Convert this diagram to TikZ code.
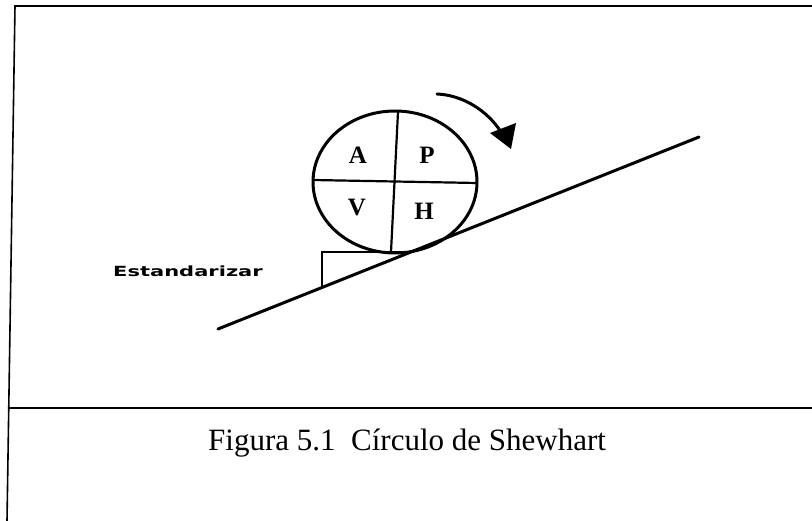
\documentclass[tikz,border=0pt]{standalone}
\usepackage{fontspec}
\setmainfont{Liberation Serif}
\newfontfamily\labelsans{DejaVu Sans}
\tikzset{
  frameline/.style={line width=1.6pt, line cap=rect},
  heavy/.style={line width=3pt, line cap=round, line join=round},
  divider/.style={line width=2.2pt},
  quad/.style={inner sep=0pt, font=\fontsize{25}{29}\selectfont\bfseries},
}
\begin{document}
\begin{tikzpicture}[x=1pt,y=-1pt]
\useasboundingbox (0,0) rectangle (812,521);
% frame
\coordinate (tl) at (15,6);
\coordinate (tr) at (812,6);
\coordinate (bl) at (7,521);
\coordinate (ml) at (8.8,408);
\coordinate (mr) at (812,408);
\draw[frameline] (tr) -- (tl) -- (bl);
\draw[frameline] (ml) -- (mr);
% incline
\coordinate (inc1) at (218,329);
\coordinate (inc2) at (699,137);
\draw[heavy] (inc1) -- (inc2);
% wedge (Estandarizar)
\coordinate (w1) at (408,252);
\coordinate (w2) at (322,252);
\coordinate (w3) at (322,287);
\draw[line width=2.4pt, line join=miter] (w1) -- (w2) -- (w3);
% circle
\coordinate (c) at (395,182);
\draw[heavy] (c) ellipse [x radius=82pt, y radius=71pt];
\coordinate (vt) at (398,112);
\coordinate (vb) at (391,252);
\coordinate (hl) at (313,180);
\coordinate (hr) at (477,183);
\draw[divider] (vt) -- (vb);
\draw[divider] (hl) -- (hr);
\node[quad] (A) at (358,155) {A};
\node[quad] (P) at (427,155) {P};
\node[quad] (V) at (357,208) {V};
\node[quad] (H) at (424,211) {H};
% rotation arrow
\coordinate (a1) at (437,94);
\coordinate (a2) at (501,132);
\draw[heavy] (a1) .. controls (462,95) and (487,110) .. (a2);
\fill (490,133) -- (516,123) -- (511,149) -- cycle;
% labels
\node[inner sep=0pt] (est) at (188,271) {\scalebox{1.5}[1]{\labelsans\bfseries\fontsize{14}{16}\selectfont Estandarizar}};
\node[inner sep=0pt, anchor=base west] (cap) at (208,451) {\fontsize{31}{37}\selectfont Figura 5.1\ \ Círculo de Shewhart};
\end{tikzpicture}
\end{document}
